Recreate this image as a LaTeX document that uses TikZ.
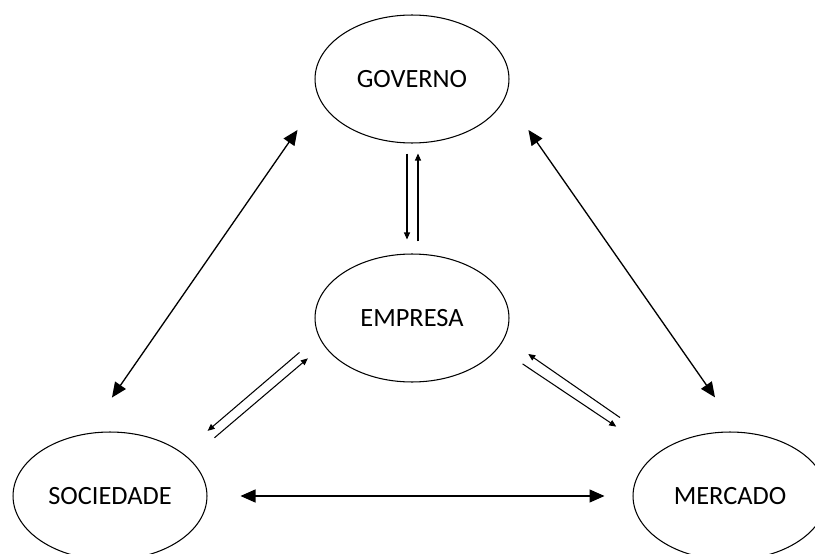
\documentclass[tikz,border=0pt]{standalone}
\usepackage{fontspec}
\setmainfont{Carlito}
\usetikzlibrary{shapes.geometric,arrows.meta}
\begin{document}
\begin{tikzpicture}[
   x=0.02cm, y=-0.02cm,
   ent/.style={ellipse, draw, line width=0.6pt, minimum width=3.88cm, minimum height=2.56cm, inner sep=0pt, font=\fontsize{15}{18}\selectfont},
   duplo/.style={{Triangle[length=0.3cm,width=0.26cm]}-{Triangle[length=0.3cm,width=0.26cm]}, line width=0.75pt},
   seta/.style={-{Triangle[length=0.14cm,width=0.12cm]}, line width=0.6pt}
]
\useasboundingbox (0,0) rectangle (815,554);

% Entidades
\node[ent] (gov) at (412,79) {GOVERNO};
\node[ent] (emp) at (412,318) {EMPRESA};
\node[ent] (soc) at (110,496) {SOCIEDADE};
\node[ent] (mer) at (730,496) {MERCADO};

% Setas grandes
\draw[duplo, shorten <=0.76cm, shorten >=0.87cm] (gov.192) -- (soc.110);
\draw[duplo, shorten <=0.8cm, shorten >=0.84cm] (gov.349) -- (mer.82);
\draw[duplo, shorten <=0.66cm, shorten >=0.56cm] (soc.east) -- (mer.west);

% Governo e empresa
\draw[seta, shorten <=0.2cm, shorten >=0.28cm] ([xshift=-0.1cm]gov.south) -- ([xshift=-0.1cm]emp.north);
\draw[seta, shorten <=0.24cm, shorten >=0.2cm] ([xshift=0.12cm]emp.north) -- ([xshift=0.12cm]gov.south);

% Empresa e sociedade
\draw[seta, shorten <=0.5cm, shorten >=0.67cm] (emp.191.5) -- (soc.31.4);
\draw[seta, shorten <=0.65cm, shorten >=0.41cm] (soc.25.2) -- (emp.197.8);

% Empresa e mercado
\draw[seta, shorten <=1.08cm, shorten >=0.57cm] (mer.144.5) -- (emp.348.7);
\draw[seta, shorten <=0.58cm, shorten >=0.97cm] (emp.341.9) -- (mer.150.7);

\end{tikzpicture}
\end{document}
